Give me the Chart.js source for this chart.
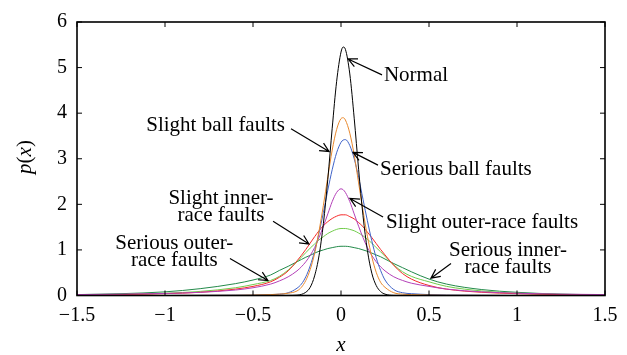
<!DOCTYPE html>
<html>
<head>
<meta charset="utf-8">
<script src="https://cdn.jsdelivr.net/npm/chart.js@4/dist/chart.umd.min.js"></script>
<style>
  body { margin: 0; background: #fff; }
  #wrap { width: 627px; height: 355px; }
</style>
</head>
<body>
<div id="wrap"><canvas id="chart"></canvas></div>
<script>
// x grid shared by every curve
const xs = [-1.5, -1.25, -1, -0.8, -0.6, -0.5, -0.4, -0.35, -0.3, -0.25, -0.225, -0.2, -0.175, -0.15, -0.125, -0.1, -0.075, -0.05, -0.025, 0, 0.0125, 0.025, 0.05, 0.075, 0.1, 0.125, 0.15, 0.175, 0.2, 0.225, 0.25, 0.3, 0.35, 0.4, 0.5, 0.6, 0.8, 1, 1.25, 1.5];

// p(x) for each condition
const normal = [0, 0, 0, 0, 0, 0, 0, 0, 0.002, 0.007, 0.025, 0.071, 0.18, 0.43, 0.87, 1.58, 2.55, 3.67, 4.69, 5.34, 5.45, 5.40, 4.86, 3.89, 2.77, 1.75, 0.99, 0.49, 0.22, 0.087, 0.03, 0.002, 0, 0, 0, 0, 0, 0, 0, 0];
const slightBall = [0, 0, 0, 0.003, 0.005, 0.01, 0.02, 0.03, 0.05, 0.1, 0.18, 0.33, 0.57, 0.92, 1.41, 1.98, 2.60, 3.19, 3.64, 3.88, 3.9, 3.85, 3.56, 3.08, 2.47, 1.86, 1.30, 0.85, 0.51, 0.29, 0.18, 0.06, 0.03, 0.02, 0.01, 0.005, 0.003, 0, 0, 0];
const seriousBall = [0, 0, 0, 0.004, 0.008, 0.01, 0.02, 0.03, 0.06, 0.16, 0.25, 0.41, 0.65, 0.97, 1.37, 1.82, 2.31, 2.76, 3.13, 3.36, 3.41, 3.42, 3.29, 3.00, 2.59, 2.11, 1.64, 1.20, 0.83, 0.55, 0.34, 0.13, 0.06, 0.04, 0.02, 0.01, 0.005, 0, 0, 0];
const slightOuter = [0.02, 0.03, 0.045, 0.07, 0.12, 0.17, 0.25, 0.32, 0.41, 0.54, 0.63, 0.74, 0.88, 1.05, 1.27, 1.52, 1.79, 2.06, 2.26, 2.34, 2.32, 2.26, 2.06, 1.79, 1.52, 1.27, 1.05, 0.88, 0.74, 0.63, 0.54, 0.41, 0.33, 0.27, 0.2, 0.14, 0.08, 0.05, 0.03, 0.02];
const slightInner = [0.01, 0.02, 0.04, 0.07, 0.14, 0.2, 0.3, 0.4, 0.54, 0.76, 0.88, 1.01, 1.15, 1.29, 1.42, 1.53, 1.62, 1.69, 1.74, 1.77, 1.77, 1.77, 1.73, 1.68, 1.60, 1.51, 1.39, 1.27, 1.14, 1.01, 0.89, 0.66, 0.48, 0.36, 0.22, 0.14, 0.07, 0.04, 0.02, 0.01];
const seriousOuter = [0.012, 0.025, 0.05, 0.09, 0.17, 0.24, 0.33, 0.42, 0.56, 0.74, 0.84, 0.94, 1.04, 1.13, 1.22, 1.29, 1.36, 1.41, 1.45, 1.47, 1.47, 1.47, 1.45, 1.42, 1.37, 1.31, 1.23, 1.15, 1.05, 0.96, 0.86, 0.67, 0.52, 0.42, 0.30, 0.2, 0.1, 0.05, 0.025, 0.012];
const seriousInner = [0.02, 0.04, 0.08, 0.15, 0.26, 0.34, 0.45, 0.55, 0.64, 0.74, 0.79, 0.84, 0.88, 0.93, 0.97, 1.0, 1.03, 1.05, 1.07, 1.08, 1.08, 1.08, 1.07, 1.05, 1.03, 1.0, 0.97, 0.93, 0.89, 0.85, 0.8, 0.7, 0.61, 0.52, 0.36, 0.25, 0.13, 0.07, 0.03, 0.015];

const xTicks = [-1.5, -1, -0.5, 0, 0.5, 1, 1.5];
const yTicks = [0, 1, 2, 3, 4, 5, 6];

// label text, anchor (data units), arrow start and tip (data units)
const notes = [
    { lines: ["Normal"], align: "left", at: [0.244, 4.82], from: [0.233, 4.84], to: [0.04, 5.19] },
    { lines: ["Slight ball faults"], align: "right", at: [-0.318, 3.74], from: [-0.284, 3.66], to: [-0.068, 3.16] },
    { lines: ["Serious ball faults"], align: "left", at: [0.222, 2.77], from: [0.21, 2.86], to: [0.068, 3.14] },
    { lines: ["Slight outer-race faults"], align: "left", at: [0.256, 1.61], from: [0.239, 1.72], to: [0.051, 2.13] },
    { lines: ["Slight inner-", "race faults"], align: "center", at: [-0.682, 2.13], from: [-0.386, 1.63], to: [-0.182, 1.13] },
    { lines: ["Serious outer-", "race faults"], align: "center", at: [-0.947, 1.15], from: [-0.631, 0.81], to: [-0.415, 0.33] },
    { lines: ["Serious inner-", "race faults"], align: "center", at: [0.949, 0.98], from: [0.625, 0.70], to: [0.511, 0.38] }
];

const serif = "'Liberation Serif', 'DejaVu Serif', serif";

function series(label, ys, color) {
    return {
        label,
        data: xs.map((x, i) => ({ x, y: ys[i] })),
        borderColor: color,
        borderWidth: 1,
        pointRadius: 0,
        cubicInterpolationMode: "monotone",
        fill: false
    };
}

const framePlugin = {
    id: "frame",
    afterDraw(chart) {
        const ctx = chart.ctx;
        const a = chart.chartArea;
        const xs_ = chart.scales.x;
        const ys_ = chart.scales.y;

        ctx.save();
        ctx.strokeStyle = "#000";
        ctx.lineWidth = 1.6;
        ctx.strokeRect(a.left, a.top, a.right - a.left, a.bottom - a.top);

        // inward ticks
        ctx.lineWidth = 1;
        ctx.beginPath();
        xTicks.forEach(v => {
            const px = xs_.getPixelForValue(v);
            ctx.moveTo(px, a.bottom); ctx.lineTo(px, a.bottom - 5);
            ctx.moveTo(px, a.top); ctx.lineTo(px, a.top + 5);
        });
        yTicks.forEach(v => {
            const py = ys_.getPixelForValue(v);
            ctx.moveTo(a.left, py); ctx.lineTo(a.left + 5, py);
            ctx.moveTo(a.right, py); ctx.lineTo(a.right - 5, py);
        });
        ctx.stroke();

        // annotations
        ctx.fillStyle = "#000";
        ctx.font = "21px " + serif;
        ctx.textBaseline = "middle";
        notes.forEach(n => {
            const tx = xs_.getPixelForValue(n.at[0]);
            const ty = ys_.getPixelForValue(n.at[1]);
            ctx.textAlign = n.align;
            n.lines.forEach((t, i) => ctx.fillText(t, tx, ty + i * 17));

            const x0 = xs_.getPixelForValue(n.from[0]), y0 = ys_.getPixelForValue(n.from[1]);
            const x1 = xs_.getPixelForValue(n.to[0]), y1 = ys_.getPixelForValue(n.to[1]);
            const ang = Math.atan2(y1 - y0, x1 - x0);
            ctx.lineWidth = 1.2;
            ctx.beginPath();
            ctx.moveTo(x0, y0); ctx.lineTo(x1, y1);
            ctx.moveTo(x1 - 10 * Math.cos(ang - 0.45), y1 - 10 * Math.sin(ang - 0.45));
            ctx.lineTo(x1, y1);
            ctx.lineTo(x1 - 10 * Math.cos(ang + 0.45), y1 - 10 * Math.sin(ang + 0.45));
            ctx.stroke();
        });

        // axis titles
        ctx.textAlign = "center";
        ctx.font = "italic 21px " + serif;
        ctx.fillText("x", (a.left + a.right) / 2, 345);

        ctx.translate(25, 157);
        ctx.rotate(-Math.PI / 2);
        const parts = [["p", true], ["(", false], ["x", true], [")", false]];
        let w = 0;
        parts.forEach(p => { ctx.font = (p[1] ? "italic " : "") + "21px " + serif; w += ctx.measureText(p[0]).width; });
        let cx = -w / 2;
        ctx.textAlign = "left";
        parts.forEach(p => {
            ctx.font = (p[1] ? "italic " : "") + "21px " + serif;
            ctx.fillText(p[0], cx, 0);
            cx += ctx.measureText(p[0]).width;
        });
        ctx.restore();
    }
};

new Chart(document.getElementById("chart"), {
    type: "line",
    data: {
        datasets: [
            series("Normal", normal, "#000000"),
            series("Slight ball faults", slightBall, "#e8892e"),
            series("Serious ball faults", seriousBall, "#3f63c8"),
            series("Slight outer-race faults", slightOuter, "#b440b8"),
            series("Slight inner-race faults", slightInner, "#f52a2a"),
            series("Serious outer-race faults", seriousOuter, "#72cc4c"),
            series("Serious inner-race faults", seriousInner, "#238a4a")
        ]
    },
    options: {
        responsive: true,
        maintainAspectRatio: false,
        animation: false,
        layout: { padding: { left: 0, top: 17.5, right: 22, bottom: 0 } },
        plugins: { legend: { display: false }, tooltip: { enabled: false } },
        scales: {
            x: {
                type: "linear",
                min: -1.5,
                max: 1.5,
                grid: { display: false, drawTicks: false },
                border: { display: false },
                afterFit: s => { s.height = 59.5; },
                afterBuildTicks: s => { s.ticks = xTicks.map(v => ({ value: v })); },
                ticks: {
                    padding: 8,
                    color: "#000",
                    font: { family: serif, size: 20 },
                    maxRotation: 0,
                    callback: v => String(v).replace("-", "\u2212")
                }
            },
            y: {
                min: 0,
                max: 6,
                grid: { display: false, drawTicks: false },
                border: { display: false },
                afterFit: s => { s.width = 77; },
                afterBuildTicks: s => { s.ticks = yTicks.map(v => ({ value: v })); },
                ticks: {
                    padding: 10,
                    color: "#000",
                    font: { family: serif, size: 20 }
                }
            }
        }
    },
    plugins: [framePlugin]
});
</script>
</body>
</html>
